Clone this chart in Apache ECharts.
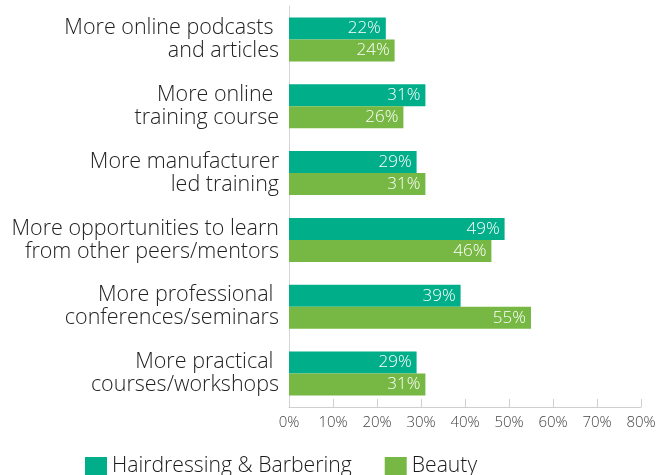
<!DOCTYPE html>
<html>
<head>
<meta charset="utf-8">
<script src="https://cdn.jsdelivr.net/npm/echarts@6/dist/echarts.min.js"></script>
<style>
  html, body { margin: 0; padding: 0; background: #fff; }
  #chart { width: 659px; height: 475px; }
</style>
</head>
<body>
<div id="chart"></div>
<script>
// Survey categories, listed bottom to top as drawn on the category axis
const categories = [
  'More practical \ncourses/workshops',
  'More professional \nconferences/seminars',
  'More opportunities to learn\nfrom other peers/mentors',
  'More manufacturer\nled training',
  'More online \ntraining course',
  'More online podcasts \nand articles'
];
const hairdressing = [29, 39, 49, 29, 31, 22];
const beauty = [31, 55, 46, 31, 26, 24];
const xTicks = [0, 10, 20, 30, 40, 50, 60, 70, 80];

const FONT = '"Open Sans", Lato, sans-serif';

const chart = echarts.init(document.getElementById('chart'));
chart.setOption({
  animation: false,
  textStyle: { fontFamily: FONT },
  grid: { left: 289, right: 18, top: 6, bottom: 68, containLabel: false },
  legend: {
    top: 450,
    left: 80,
    itemWidth: 22,
    itemHeight: 18,
    itemGap: 33,
    icon: 'rect',
    textStyle: { fontSize: 21.2, fontWeight: 300, color: '#1a1a1a', fontFamily: FONT, lineHeight: 22 },
    data: ['Hairdressing & Barbering', 'Beauty']
  },
  xAxis: {
    type: 'value',
    min: xTicks[0],
    max: xTicks[xTicks.length - 1],
    interval: 10,
    axisLine: { show: true, lineStyle: { color: '#cfcfcf' } },
    axisTick: { show: true, inside: true, length: 8, lineStyle: { color: '#cfcfcf' } },
    splitLine: { show: false },
    axisLabel: { formatter: '{value}%', fontSize: 15, fontWeight: 300, color: '#444', margin: 8, fontFamily: FONT }
  },
  yAxis: {
    type: 'category',
    data: categories,
    axisLine: { show: true, lineStyle: { color: '#d6d6d6' } },
    axisTick: { show: false },
    axisLabel: { fontSize: 21.5, fontWeight: 300, color: '#222', lineHeight: 23, margin: 10, align: 'right', fontFamily: FONT }
  },
  series: [
    {
      name: 'Hairdressing & Barbering',
      type: 'bar',
      data: hairdressing,
      barWidth: 22,
      barGap: '0%',
      itemStyle: { color: '#00AE8A' },
      label: { show: true, position: 'insideRight', formatter: '{c}%', color: '#fff', fontSize: 17, fontWeight: 300, distance: 5, fontFamily: FONT }
    },
    {
      name: 'Beauty',
      type: 'bar',
      data: beauty,
      barWidth: 22,
      barGap: '0%',
      itemStyle: { color: '#76B843' },
      label: { show: true, position: 'insideRight', formatter: '{c}%', color: '#fff', fontSize: 17, fontWeight: 300, distance: 5, fontFamily: FONT }
    }
  ]
});
</script>
</body>
</html>
